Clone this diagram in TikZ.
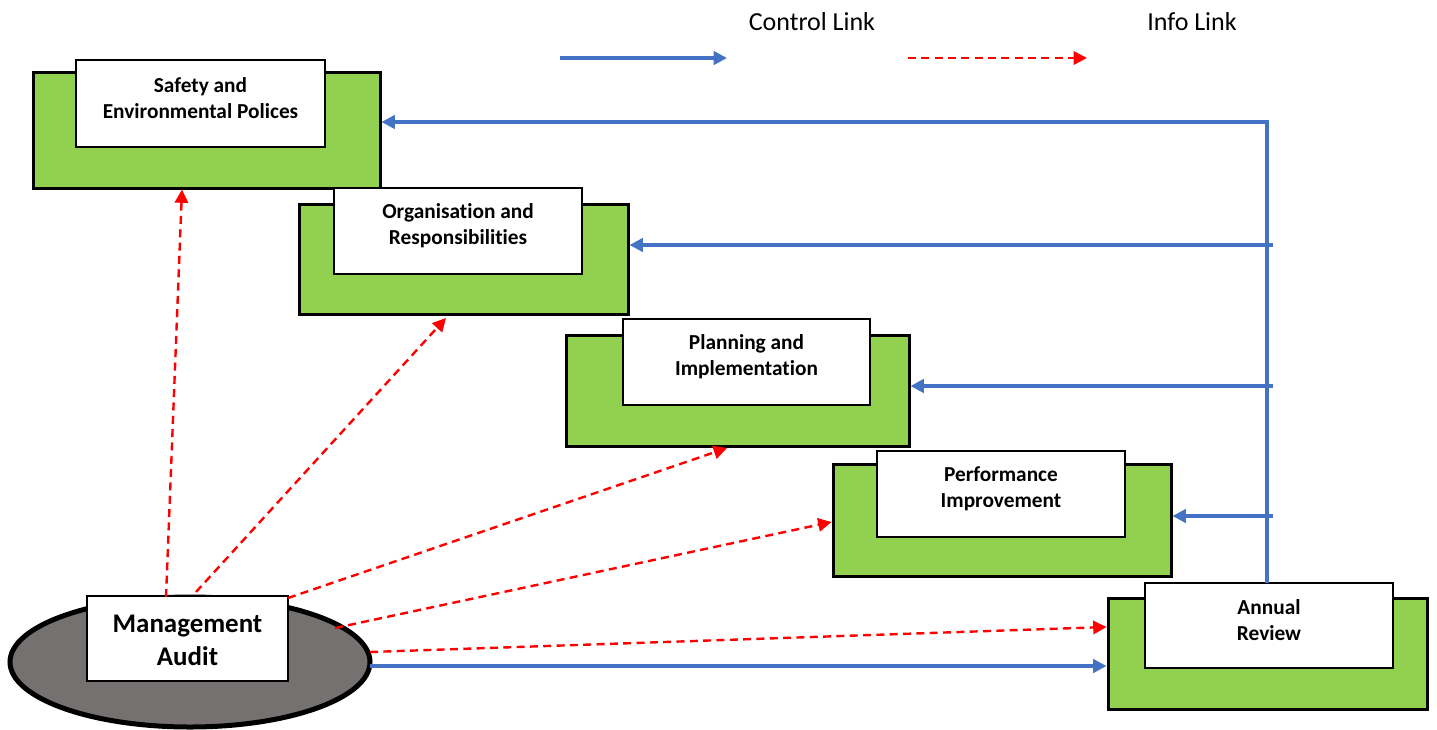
\documentclass[tikz,border=0pt]{standalone}
\usepackage{fontspec}
\setmainfont[Ligatures=NoCommon]{Carlito}
\usetikzlibrary{arrows.meta,shapes.geometric,calc}
\definecolor{boxgreen}{HTML}{92D050}
\definecolor{ctrlblue}{HTML}{4472C4}
\definecolor{auditgrey}{HTML}{767171}
\begin{document}
\begin{tikzpicture}[x=0.75pt,y=-0.75pt,
  greenbox/.style={draw=black,line width=2.25pt,fill=boxgreen,inner sep=0pt},
  whitebox/.style={draw=black,line width=1.5pt,fill=white,inner sep=0pt},
  boxtext/.style={font=\bfseries\fontsize{16}{19.5}\selectfont,align=center,inner sep=0pt},
  ctrl/.style={draw=ctrlblue,line width=2.5pt,-{Triangle[length=10pt,width=10pt]}},
  info/.style={draw=red,line width=1.8pt,dash pattern=on 6pt off 4pt,-{Triangle[length=10pt,width=10pt]}},
  legendtext/.style={font=\fontsize{19.5}{22}\selectfont,inner sep=0pt}]
\useasboundingbox (0,0) rectangle (1437,729);

% legend
\node[legendtext] (lc) at (812,22) {Control Link};
\node[legendtext] (li) at (1192,22) {Info Link};
\coordinate (lca) at (560,58);
\coordinate (lcb) at (727,58);
\coordinate (lia) at (908,58);
\coordinate (lib) at (1087,58);
\draw[ctrl] (lca) -- (lcb);
\draw[info] (lia) -- (lib);

% green boxes
\node[greenbox,minimum width=260.25pt,minimum height=87pt] (g1) at (206.5,130) {};
\node[whitebox,minimum width=186.75pt,minimum height=65.25pt] (w1) at (200.5,103.5) {};
\node[boxtext] (t1) at ($(w1.center)+(0,-5)$) {Safety and\\Environmental Polices};

\node[greenbox,minimum width=246.75pt,minimum height=82.5pt] (g2) at (463.5,259) {};
\node[whitebox,minimum width=186pt,minimum height=64.5pt] (w2) at (458,231) {};
\node[boxtext] (t2) at ($(w2.center)+(0,-5)$) {Organisation and\\Responsibilities};

\node[greenbox,minimum width=257.25pt,minimum height=83.25pt] (g3) at (737.5,390.5) {};
\node[whitebox,minimum width=185.25pt,minimum height=64.5pt] (w3) at (746.5,362) {};
\node[boxtext] (t3) at ($(w3.center)+(0,-5)$) {Planning and\\Implementation};

\node[greenbox,minimum width=253.5pt,minimum height=84pt] (g4) at (1002,520) {};
\node[whitebox,minimum width=186pt,minimum height=64.5pt] (w4) at (1001,494) {};
\node[boxtext] (t4) at ($(w4.center)+(0,-5)$) {Performance\\Improvement};

\node[greenbox,minimum width=239.25pt,minimum height=83.25pt] (g5) at (1267.5,653.5) {};
\node[whitebox,minimum width=186pt,minimum height=63.75pt] (w5) at (1269,625.5) {};
\node[boxtext] (t5) at ($(w5.center)+(0,-5)$) {Annual\\Review};

% management audit
\node[ellipse,draw=black,line width=3.75pt,fill=auditgrey,minimum width=270pt,minimum height=97.5pt,inner sep=0pt] (ma) at (190,662) {};
\node[whitebox,minimum width=150.75pt,minimum height=63.75pt] (mw) at (187.5,638.5) {};
\node[font=\bfseries\fontsize{20.2}{25}\selectfont,align=center,inner sep=0pt] (mt) at ($(mw.center)+(0,2)$) {Management\\Audit};

% control links
\coordinate (vtop) at (1267,122);
\coordinate (vbot) at (1267,583);
\draw[ctrl] (vbot) -- (vtop) -- (vtop -| g1.east);
\coordinate (b2) at (1273,245);
\coordinate (b3) at (1273,386);
\coordinate (b4) at (1273,516);
\draw[ctrl] (b2) -- (b2 -| g2.east);
\draw[ctrl] (b3) -- (b3 -| g3.east);
\draw[ctrl] (b4) -- (b4 -| g4.east);
\coordinate (mab) at (370,666);
\draw[ctrl] (mab) -- (mab -| g5.west);

% info links
\coordinate (r1s) at (166,597);
\coordinate (r1e) at (182,188);
\coordinate (r2s) at (196,592);
\coordinate (r2e) at (446,318);
\coordinate (r3s) at (288,598);
\coordinate (r3e) at (727,448);
\coordinate (r4s) at (335,628);
\coordinate (r4e) at (831,522);
\coordinate (r5s) at (370,652);
\coordinate (r5e) at (1107,627);
\draw[info] (r1s) -- (r1e |- g1.south);
\draw[info] (r2s) -- (r2e);
\draw[info] (r3s) -- (r3e);
\draw[info] (r4s) -- (r4e -| g4.west);
\draw[info] (r5s) -- (r5e -| g5.west);
\end{tikzpicture}
\end{document}
